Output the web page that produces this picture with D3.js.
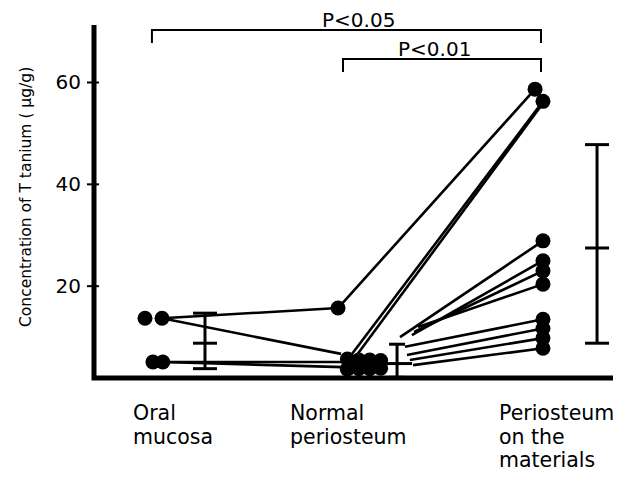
<!DOCTYPE html>
<html>
<head>
<meta charset="utf-8">
<script src="https://cdn.jsdelivr.net/npm/d3@7"></script>
<style>
  body { margin: 0; background: #fff; }
  text { font-family: "DejaVu Sans", sans-serif; fill: #000; }
</style>
</head>
<body>
<div id="chart"></div>
<script>
// group position (0 = oral mucosa, 1 = normal periosteum, 2 = periosteum on the materials) and value in ug/g
const categories = ["Oral\nmucosa", "Normal\nperiosteum", "Periosteum\non the\nmaterials"];
const yTicks = [20, 40, 60];

const oralDots = [[0, 13.6], [0.086, 13.6], [0.04, 5.0], [0.09, 5.0]];
const normalDots = [[0.975, 15.6], [1.022, 5.6], [1.022, 3.6], [1.08, 5.4], [1.08, 3.7],
  [1.135, 5.4], [1.135, 3.7], [1.19, 5.3], [1.19, 3.8]];
const materialDots = [[1.97, 58.6], [2.01, 56.2], [2.01, 28.8], [2.01, 24.9], [2.01, 22.9],
  [2.01, 20.3], [2.01, 13.4], [2.01, 11.6], [2.01, 9.7], [2.01, 7.7]];

// paired lines [x0, v0, x1, v1]
const pairLines = [
  [0.086, 13.6, 0.975, 15.6],
  [0.086, 13.6, 0.99, 6.6],
  [0.09, 5.0, 1.0, 5.0],
  [0.09, 5.0, 1.0, 4.0],
  [0.975, 15.6, 1.97, 58.6],
  [1.03, 5.8, 2.01, 56.2],
  [1.07, 6.4, 2.025, 56.6],
  [1.288, 9.9, 2.01, 28.8],
  [1.348, 10.3, 2.01, 24.9],
  [1.359, 10.9, 2.01, 22.9],
  [1.379, 11.9, 2.01, 20.3],
  [1.313, 8.0, 2.01, 13.4],
  [1.323, 6.4, 2.01, 11.6],
  [1.338, 5.4, 2.01, 9.7],
  [1.354, 4.4, 2.01, 7.7]
];

// error bars: x, low, mean, high
const errorBars = [
  [0.303, 3.7, 8.7, 14.6],
  [1.273, 2.0, 4.7, 8.5],
  [2.283, 8.7, 27.4, 47.7]
];

const comparisons = [
  {from: 0.035, to: 2.0, label: "P<0.05"},
  {from: 1.0, to: 2.0, label: "P<0.01"}
];

const W = 631, H = 477;
const svg = d3.select("#chart").append("svg")
  .attr("width", W)
  .attr("height", H);

const x = d3.scaleLinear().domain([0, 2]).range([145, 541]);
const y = d3.scaleLinear().domain([0, 60]).range([387.5, 82]);
const yBase = 1.85;   // where the x axis sits
const yTop = 71.2;
const axisLeft = 94;

// pair lines
svg.append("g")
  .selectAll("line")
  .data(pairLines)
  .enter()
  .append("line")
  .attr("x1", d => x(d[0]))
  .attr("y1", d => y(d[1]))
  .attr("x2", d => x(d[2]))
  .attr("y2", d => y(d[3]))
  .attr("stroke", "#000")
  .attr("stroke-width", 2.6);

// error bars
const eb = svg.append("g").attr("stroke", "#000").attr("stroke-width", 3);
errorBars.forEach((d, i) => {
  const cx = x(d[0]);
  const hw = i === 1 ? 8 : 12;
  eb.append("line").attr("x1", cx).attr("x2", cx).attr("y1", y(d[1])).attr("y2", y(d[3]));
  eb.append("line").attr("x1", cx - hw).attr("x2", cx + hw).attr("y1", y(d[3])).attr("y2", y(d[3]));
  eb.append("line").attr("x1", cx - hw).attr("x2", cx + hw).attr("y1", y(d[1])).attr("y2", y(d[1]));
  eb.append("line").attr("x1", cx - (i === 1 ? 12 : hw)).attr("x2", cx + (i === 1 ? 15 : hw))
    .attr("y1", y(d[2])).attr("y2", y(d[2]));
});

// dots
svg.append("g")
  .selectAll("circle")
  .data(oralDots.concat(normalDots, materialDots))
  .enter()
  .append("circle")
  .attr("cx", d => x(d[0]))
  .attr("cy", d => y(d[1]))
  .attr("r", 7.5)
  .attr("fill", "#000");

// axes
svg.append("path")
  .attr("d", `M${axisLeft},${y(yTop)}V${y(yBase)}H613`)
  .attr("fill", "none")
  .attr("stroke", "#000")
  .attr("stroke-width", 5);

const yAxis = svg.append("g")
  .attr("transform", `translate(${axisLeft},0)`)
  .call(d3.axisLeft(y).tickValues(yTicks).tickSize(7).tickPadding(6));
yAxis.select(".domain").remove();
yAxis.selectAll(".tick line").attr("x2", 5).attr("x1", -7).attr("stroke-width", 2);
yAxis.selectAll(".tick text")
  .style("font-family", "DejaVu Sans")
  .style("font-size", "20px");

svg.append("text")
  .attr("transform", "translate(31,327) rotate(-90)")
  .style("font-size", "15.5px")
  .text("Concentration of T tanium ( \u03bcg/g)");

// category labels
const labelX = [133, 290, 499];
categories.forEach((c, i) => {
  const t = svg.append("text")
    .attr("x", labelX[i])
    .attr("y", 420)
    .style("font-size", "20.5px");
  c.split("\n").forEach((line, j) => {
    t.append("tspan").attr("x", labelX[i]).attr("dy", j === 0 ? 0 : 23.5).text(line);
  });
});

// significance brackets
const bracketY = [30, 59];
const labelPos = [322, 398];
comparisons.forEach((c, i) => {
  const by = bracketY[i];
  svg.append("path")
    .attr("d", `M${x(c.from)},${by + 13}V${by}H${x(c.to)}V${by + 13}`)
    .attr("fill", "none")
    .attr("stroke", "#000")
    .attr("stroke-width", 2);
  svg.append("text")
    .attr("x", labelPos[i])
    .attr("y", by - 3)
    .style("font-size", "20px")
    .text(c.label);
});
</script>
</body>
</html>
